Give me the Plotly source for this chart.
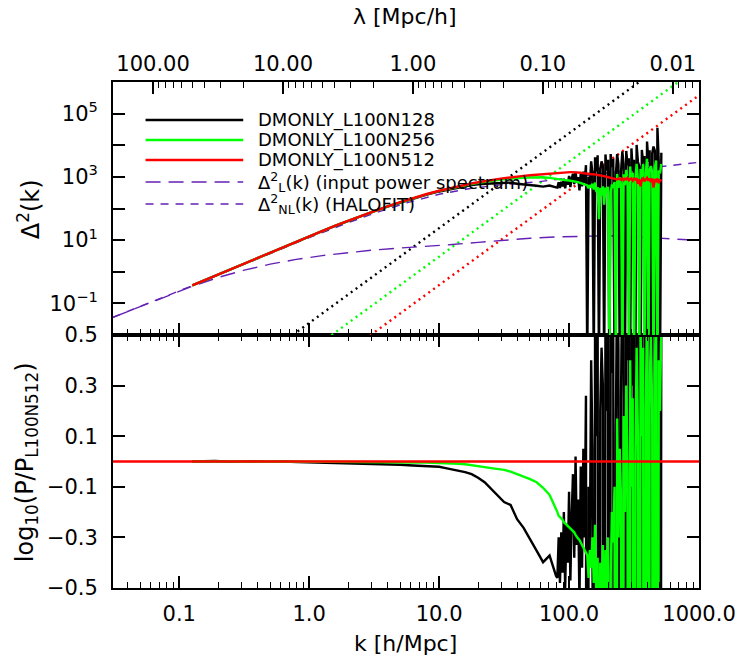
import numpy as np
import plotly.graph_objects as go

# ---------------- data (log10 k [h/Mpc]) ----------------
logk_low = [-0.900, -0.726, -0.600, -0.503, -0.424, -0.299, -0.202, -0.088, 0.002, 0.099,
            0.196, 0.303, 0.400, 0.497, 0.597, 0.701, 0.798, 0.899, 1.000]
logk_mid = [1.05, 1.10, 1.15, 1.20, 1.25, 1.30, 1.35, 1.40, 1.45, 1.50,
            1.55, 1.60, 1.65, 1.70, 1.75, 1.80, 1.85, 1.90]
logk_high = [1.91, 1.92, 1.93, 1.94, 1.95, 1.96, 1.97, 1.98, 1.99, 2.00,
             2.01, 2.02, 2.03, 2.04, 2.05, 2.06, 2.07, 2.08, 2.09, 2.10,
             2.11, 2.12, 2.13, 2.14, 2.15, 2.16, 2.17, 2.18, 2.19, 2.20,
             2.21, 2.22, 2.23, 2.24, 2.25, 2.26, 2.27, 2.28, 2.29, 2.30,
             2.31, 2.32, 2.33, 2.34, 2.35, 2.36, 2.37, 2.38, 2.39, 2.40,
             2.41, 2.42, 2.43, 2.44, 2.45, 2.46, 2.47, 2.48, 2.49, 2.50,
             2.51, 2.52, 2.53, 2.54, 2.55, 2.56, 2.57, 2.58, 2.59, 2.60,
             2.61, 2.62, 2.63, 2.64, 2.65, 2.66, 2.67, 2.68, 2.69, 2.70,
             2.71]

# log10 Delta^2 of DMONLY_L100N512
red_low = [-0.43, -0.13, 0.08, 0.25, 0.39, 0.61, 0.78, 0.98, 1.13, 1.29,
           1.45, 1.62, 1.77, 1.92, 2.06, 2.20, 2.33, 2.45, 2.56]
red_mid = [2.61, 2.66, 2.71, 2.75, 2.79, 2.83, 2.87, 2.90, 2.93, 2.96,
           2.99, 3.01, 3.03, 3.05, 3.07, 3.09, 3.10, 3.12]
red_high = [3.12, 3.13, 3.13, 3.13, 3.14, 3.14, 3.14, 3.14, 3.15, 3.15,
            3.15, 3.15, 3.15, 3.15, 3.14, 3.14, 3.14, 3.13, 3.13, 3.12,
            3.12, 3.11, 3.11, 3.10, 3.10, 3.09, 3.09, 3.08, 3.08, 3.07,
            3.07, 3.06, 3.06, 3.05, 3.04, 3.03, 3.02, 3.01, 3.00, 2.99,
            2.98, 2.97, 2.96, 2.97, 2.94, 2.95, 2.92, 2.95, 2.93, 2.91,
            2.96, 2.90, 2.94, 2.92, 2.97, 2.89, 2.93, 2.95, 2.88, 2.94,
            2.91, 2.96, 2.78, 2.93, 2.70, 2.90, 2.95, 2.86, 2.92, 2.97,
            2.88, 2.94, 2.84, 2.95, 2.66, 2.93, 2.87, 2.95, 2.80, 2.91,
            2.86]

# log10(P / P_L100N512) for DMONLY_L100N128
ratio128_low = [0.0, 0.002, -0.001, 0.001, 0.0, -0.001, 0.0, -0.002, -0.003, -0.004,
                -0.005, -0.006, -0.008, -0.009, -0.011, -0.013, -0.016, -0.018, -0.021]
ratio128_mid = [-0.026, -0.031, -0.038, -0.042, -0.050, -0.064, -0.082, -0.108, -0.130, -0.160,
                -0.172, -0.228, -0.262, -0.305, -0.352, -0.398, -0.372, -0.452]
ratio128_high = [-0.46, -0.30, -0.48, -0.28, -0.44, -0.20, -0.50, -0.25, -0.40, -0.12,
                 -0.47, -0.22, -0.05, -0.38, 0.02, -0.33, -0.15, -0.56, -0.02, -0.42,
                 0.05, -0.30, 0.26, -6.0, -0.10, -0.35, 0.40, 0.05, -6.0, 0.55,
                 0.10, 0.62, -6.0, 0.20, 0.45, 0.30, -6.0, 0.70, 0.20, 0.55,
                 -6.0, 0.75, 0.35, 0.60, -6.0, 0.10, 0.80, 0.45, -6.0, 0.25,
                 0.85, 0.50, -6.0, 0.90, 0.40, 0.70, -6.0, 0.95, 0.30, 0.60,
                 -6.0, 1.05, 0.70, 0.40, -6.0, 0.95, 0.50, 0.80, -6.0, 1.15,
                 0.60, 0.90, -6.0, 0.80, 1.30, 0.90, -6.0, 1.60, 0.70, -6.0,
                 0.90]

# log10(P / P_L100N512) for DMONLY_L100N256
ratio256_low = [0.0, 0.001, 0.0, -0.001, 0.0, 0.001, 0.0, -0.001, 0.0, -0.001,
                -0.001, -0.002, -0.002, -0.002, -0.003, -0.003, -0.004, -0.004, -0.005]
ratio256_mid = [-0.006, -0.007, -0.009, -0.011, -0.014, -0.018, -0.022, -0.026, -0.029, -0.033,
                -0.040, -0.049, -0.058, -0.070, -0.082, -0.104, -0.132, -0.185]
ratio256_high = [-0.20, -0.215, -0.22, -0.225, -0.23, -0.24, -0.245, -0.25, -0.255, -0.26,
                 -0.265, -0.27, -0.275, -0.28, -0.29, -0.30, -0.305, -0.31, -0.32, -0.33,
                 -0.34, -0.345, -0.36, -0.37, -0.46, -0.35, -0.42, -0.30, -0.48, -0.25,
                 -0.55, -0.38, -1.4, -0.40, -0.62, -0.33, -0.9, -0.35, -0.50, -0.30,
                 -6.0, -0.45, -0.20, -0.32, -0.10, -6.0, 0.17, -0.30, 0.05, -0.15,
                 -6.0, 0.18, -0.20, 0.30, -0.05, -6.0, 0.40, -0.10, 0.25, -6.0,
                 0.0, 0.45, 0.10, -6.0, 0.55, 0.10, 0.45, -6.0, 0.20, 0.60,
                 -6.0, 0.30, 0.50, 0.20, -6.0, 0.35, 0.65, -6.0, 0.40, 0.20,
                 0.55]

# input linear power spectrum and HALOFIT (log10 k, log10 Delta^2)
lin_logk = [-1.51, -1.3, -1.1, -0.9, -0.7, -0.5, -0.3, -0.1, 0.1, 0.3, 0.5, 0.7,
            0.9, 1.1, 1.3, 1.5, 1.7, 1.9, 2.1, 2.3, 2.5, 2.7, 2.9, 3.0]
lin_logd = [-1.44, -1.10, -0.77, -0.46, -0.18, 0.05, 0.24, 0.39, 0.51, 0.61, 0.69, 0.75,
            0.80, 0.86, 0.93, 1.00, 1.06, 1.10, 1.13, 1.14, 1.11, 1.06, 1.01, 0.99]
nl_logk = [-1.51, -1.3, -1.1, -0.9, -0.6, -0.3, 0.0, 0.3, 0.5, 0.75, 1.0, 1.25,
           1.5, 1.75, 2.0, 2.25, 2.5, 2.75, 3.0]
nl_logd = [-1.44, -1.10, -0.77, -0.44, 0.07, 0.58, 1.08, 1.55, 1.85, 2.18, 2.45, 2.64,
           2.76, 2.84, 2.96, 3.10, 3.23, 3.35, 3.46]

# shot-noise levels (dotted), log10 k and log10 Delta^2 at the two ends
shot_logk = [-0.5, 3.0]
shot128 = [-3.12, 7.38]
shot256 = [-4.02, 6.48]
shot512 = [-4.92, 5.58]

# axis tick labels
k_ticks = [0.1, 1.0, 10.0, 100.0, 1000.0]
k_ticktext = ["0.1", "1.0", "10.0", "100.0", "1000.0"]
lam_ticks = [100.0, 10.0, 1.0, 0.1, 0.01]
lam_ticktext = ["100.00", "10.00", "1.00", "0.10", "0.01"]
d2_ticks = [1e-1, 1e1, 1e3, 1e5]
d2_ticktext = ["10<sup>\u22121</sup>", "10<sup>1</sup>", "10<sup>3</sup>", "10<sup>5</sup>"]
d2_minor = [1e-2, 1e0, 1e2, 1e4, 1e6]
r_ticks = [-0.5, -0.3, -0.1, 0.1, 0.3, 0.5]
r_ticktext = ["\u22120.5", "\u22120.3", "\u22120.1", "0.1", "0.3", "0.5"]

# ---------------- build ----------------
logk = np.array(logk_low + logk_mid + logk_high)
k = 10.0 ** logk
red = np.array(red_low + red_mid + red_high)
r128 = np.array(ratio128_low + ratio128_mid + ratio128_high)
r256 = np.array(ratio256_low + ratio256_mid + ratio256_high)

d512 = 10.0 ** red
d128 = 10.0 ** (red + r128)
d256 = 10.0 ** (red + r256)

FONT = "DejaVu Sans"
PURPLE = "#6420b4"
BLACK = "#000000"
GREEN = "#00ff00"
RED = "#ff0000"
LW = 2.4

fig = go.Figure()

# top panel
for sl, col in [(shot128, BLACK), (shot256, GREEN), (shot512, RED)]:
    fig.add_trace(go.Scatter(x=10.0 ** np.array(shot_logk), y=10.0 ** np.array(sl),
                             mode="lines", line=dict(color=col, width=2.4, dash="2px,4px"),
                             xaxis="x2", yaxis="y2", showlegend=False, hoverinfo="skip"))
fig.add_trace(go.Scatter(x=10.0 ** np.array(lin_logk), y=10.0 ** np.array(lin_logd), mode="lines",
                         line=dict(color=PURPLE, width=1.4, dash="15px,8px"),
                         xaxis="x2", yaxis="y2", showlegend=False))
fig.add_trace(go.Scatter(x=10.0 ** np.array(nl_logk), y=10.0 ** np.array(nl_logd), mode="lines",
                         line=dict(color=PURPLE, width=1.4, dash="8px,7px"),
                         xaxis="x2", yaxis="y2", showlegend=False))
for d, col in [(d128, BLACK), (d256, GREEN), (d512, RED)]:
    fig.add_trace(go.Scatter(x=k, y=d, mode="lines", line=dict(color=col, width=LW),
                             xaxis="x2", yaxis="y2", showlegend=False))

# bottom panel
for r, col in [(r128, BLACK), (r256, GREEN)]:
    fig.add_trace(go.Scatter(x=k, y=r, mode="lines", line=dict(color=col, width=LW),
                             xaxis="x", yaxis="y", showlegend=False))

# dummy trace for the lambda axis
fig.add_trace(go.Scatter(x=[None], y=[None], xaxis="x3", yaxis="y2", showlegend=False,
                         hoverinfo="skip"))

# reference line at zero (N512 / N512)
fig.add_shape(type="line", xref="x domain", yref="y", x0=0, x1=1, y0=0, y1=0,
              line=dict(color=RED, width=LW))

XR = [-1.51, 3.0]
k_minor = [m * 10.0 ** e for e in range(-2, 3) for m in range(2, 10)]
lam_minor = [2 * np.pi / (m * 10.0 ** e) for e in range(-3, 3) for m in range(2, 10)]
tickfont = dict(family=FONT, size=21, color="black")

common_x = dict(type="log", range=XR, showgrid=False, zeroline=False, ticks="inside",
                ticklen=12, tickwidth=1.5, tickcolor="black", showline=True, linecolor="black",
                linewidth=1.8, tickfont=tickfont,
                minor=dict(tickmode="array", tickvals=k_minor, ticks="inside", ticklen=6,
                           tickwidth=1.2, tickcolor="black", showgrid=False))

fig.update_layout(
    width=748, height=658, margin=dict(l=113, r=41, t=82, b=70),
    paper_bgcolor="white", plot_bgcolor="white", showlegend=False,
    font=dict(family=FONT, color="black"),
    xaxis=dict(**common_x, anchor="y", domain=[0, 1], tickmode="array", tickvals=k_ticks,
               ticktext=k_ticktext, mirror="ticks", ticklabelstandoff=6),
    xaxis2=dict(**common_x, anchor="y2", domain=[0, 1], tickmode="array", tickvals=k_ticks,
                showticklabels=False, mirror=True),
    xaxis3=dict(type="log", range=XR, overlaying="x2", anchor="y2", side="top",
                showgrid=False, zeroline=False, showline=False, ticks="inside", ticklen=12,
                tickwidth=1.5, tickcolor="black", tickfont=tickfont, tickmode="array",
                tickvals=[2 * np.pi / v for v in lam_ticks], ticktext=lam_ticktext,
                ticklabelstandoff=6,
                minor=dict(tickmode="array", tickvals=lam_minor, ticks="inside", ticklen=6,
                           tickwidth=1.2, tickcolor="black", showgrid=False)),
    yaxis=dict(domain=[0, 0.5], range=[-0.5, 0.5], anchor="x", showgrid=False, zeroline=False,
               ticks="inside", ticklen=12, tickwidth=1.5, tickcolor="black", showline=True,
               linecolor="black", linewidth=1.8, mirror="ticks", tickmode="array",
               tickvals=r_ticks, ticktext=r_ticktext, tickfont=tickfont, ticklabelstandoff=9),
    yaxis2=dict(domain=[0.5, 1], type="log", range=[-2, 6], anchor="x2", showgrid=False,
                zeroline=False, ticks="inside", ticklen=12, tickwidth=1.5, tickcolor="black",
                showline=True, linecolor="black", linewidth=1.8, mirror="ticks",
                tickmode="array", tickvals=d2_ticks, ticktext=d2_ticktext, tickfont=tickfont,
                ticklabelstandoff=9,
                minor=dict(tickmode="array", tickvals=d2_minor, ticks="inside", ticklen=12,
                           tickwidth=1.5, tickcolor="black", showgrid=False)),
)

# axis titles
def px2paper(px, py):
    return (px - 113) / 594.0, (588 - py) / 506.0

ann = []
tx, ty = px2paper(409, 643)
ann.append(dict(text="k [h/Mpc]", x=tx, y=ty, size=22))
tx, ty = px2paper(409, 16)
ann.append(dict(text="\u03bb [Mpc/h]", x=tx, y=ty, size=22))
tx, ty = px2paper(28, 209)
ann.append(dict(text="\u0394<sup>2</sup>(k)", x=tx, y=ty, textangle=-90, size=24))
tx, ty = px2paper(25, 462)
ann.append(dict(text="log<sub>10</sub>(P/P<sub>L100N512</sub>)", x=tx, y=ty, textangle=-90,
                size=24))
for a in ann:
    sz = a.pop("size")
    fig.add_annotation(xref="paper", yref="paper", showarrow=False,
                       xanchor="center", yanchor="middle",
                       font=dict(family=FONT, size=sz, color="black"), **a)

# legend
legend_items = [
    ("DMONLY_L100N128", BLACK, None, LW, 120),
    ("DMONLY_L100N256", GREEN, None, LW, 140),
    ("DMONLY_L100N512", RED, None, LW, 160),
    ("\u0394<sup>2</sup><sub>L</sub>(k) (input power spectrum)", PURPLE, "15px,8px", 1.4, 182),
    ("\u0394<sup>2</sup><sub>NL</sub>(k) (HALOFIT)", PURPLE, "8px,7px", 1.4, 204),
]
for text, col, dash, w, py in legend_items:
    x0, yy = px2paper(146, py)
    x1, _ = px2paper(245, py)
    line = dict(color=col, width=w)
    if dash:
        line["dash"] = dash
    fig.add_shape(type="line", xref="paper", yref="paper", x0=x0, x1=x1, y0=yy, y1=yy,
                  line=line)
    xt, _ = px2paper(258, py)
    fig.add_annotation(xref="paper", yref="paper", x=xt, y=yy, text=text, showarrow=False,
                       xanchor="left", yanchor="middle",
                       font=dict(family=FONT, size=18, color="black"))

fig.write_html("out.html")
